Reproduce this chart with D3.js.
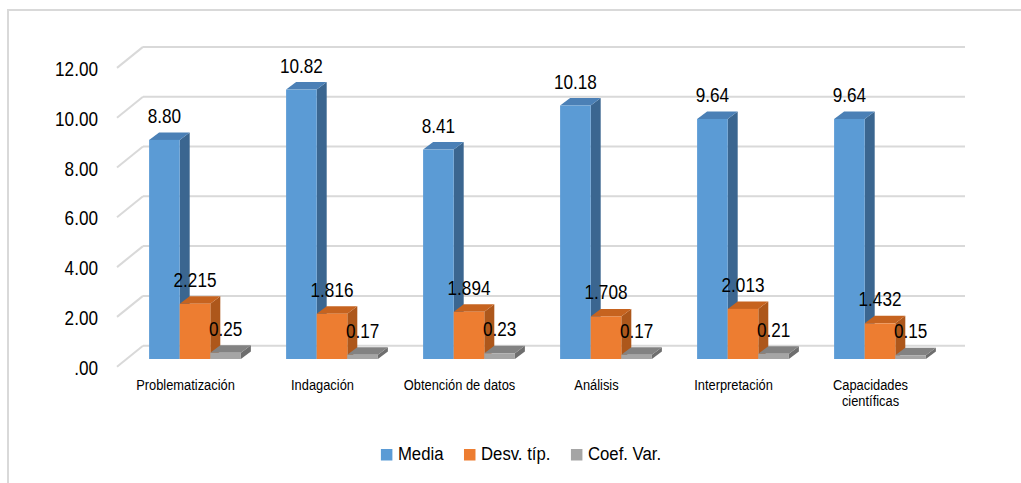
<!DOCTYPE html>
<html>
<head>
<meta charset="utf-8">
<script src="https://cdn.jsdelivr.net/npm/d3@7"></script>
<style>
  html, body { margin: 0; padding: 0; background: #fff; }
  svg { display: block; font-family: "Liberation Sans", Arial, sans-serif; }
</style>
</head>
<body>
<svg id="chart" width="1021" height="483"></svg>
<script>
// Dimension names and statistics per dimension
const categories = ["Problematización", "Indagación", "Obtención de datos", "Análisis", "Interpretación", "Capacidades científicas"];
const categoryLines = [["Problematización"], ["Indagación"], ["Obtención de datos"], ["Análisis"], ["Interpretación"], ["Capacidades", "científicas"]];
const seriesNames = ["Media", "Desv. típ.", "Coef. Var."];
const media = [8.80, 10.82, 8.41, 10.18, 9.64, 9.64];
const desvTip = [2.215, 1.816, 1.894, 1.708, 2.013, 1.432];
const coefVar = [0.25, 0.17, 0.23, 0.17, 0.21, 0.15];
const labelMedia = ["8.80", "10.82", "8.41", "10.18", "9.64", "9.64"];
const labelDesv = ["2.215", "1.816", "1.894", "1.708", "2.013", "1.432"];
const labelCoef = ["0.25", "0.17", "0.23", "0.17", "0.21", "0.15"];
const yTicks = [0, 2, 4, 6, 8, 10, 12];
const yTickLabels = [".00", "2.00", "4.00", "6.00", "8.00", "10.00", "12.00"];

const series = [
  { name: seriesNames[0], values: media, labels: labelMedia, front: "#5B9BD5", top: "#4B80B6", side: "#3B6690" },
  { name: seriesNames[1], values: desvTip, labels: labelDesv, front: "#ED7D31", top: "#C6631F", side: "#AD571B" },
  { name: seriesNames[2], values: coefVar, labels: labelCoef, front: "#A5A5A5", top: "#828282", side: "#6E6E6E" }
];

const svg = d3.select("#chart");

// Outer chart frame
svg.append("rect")
  .attr("x", 8).attr("y", 10).attr("width", 1040).attr("height", 500)
  .attr("fill", "none").attr("stroke", "#d9d9d9").attr("stroke-width", 2);

// 3D geometry: back wall, floor depth and bar depth
const backLeft = 143, backRight = 965;
const floorDX = -26, floorDY = 21;       // back wall -> front edge of floor
const barPlaneDX = -16.5, barPlaneDY = 13.3; // back wall -> bar front faces
const barDX = 10, barDY = -7.5;          // bar thickness

const y = d3.scaleLinear().domain([0, 12]).range([345.7, 46.9]);

// Category bands along the back wall
const xBack = d3.scaleBand().domain(categories).range([backLeft, backRight]);
const groupWidth = 91.8;
const xSeries = d3.scaleBand().domain(seriesNames).range([0, groupWidth]).paddingInner(0);

// Compressed text helper
function addText(g, x, yy, str, size, sx, anchor) {
  return g.append("text")
    .attr("transform", `translate(${x},${yy}) scale(${sx},1)`)
    .attr("text-anchor", anchor || "middle")
    .attr("font-size", size)
    .attr("fill", "#000")
    .text(str);
}

// Gridlines: back wall lines plus the diagonal across the side of the floor
const grid = svg.append("g");
yTicks.forEach(t => {
  const yy = y(t);
  grid.append("line")
    .attr("x1", backLeft).attr("x2", backRight)
    .attr("y1", yy).attr("y2", yy)
    .attr("stroke", "#d9d9d9").attr("stroke-width", 2);
  grid.append("line")
    .attr("x1", backLeft + floorDX).attr("y1", yy + floorDY)
    .attr("x2", backLeft).attr("y2", yy)
    .attr("stroke", "#d9d9d9").attr("stroke-width", 2);
});

// Value axis labels
const axisG = svg.append("g");
yTicks.forEach((t, i) => {
  addText(axisG, 98, y(t) + floorDY + 8, yTickLabels[i], 19.5, 0.88, "end");
});

// Bars (front, top and side faces)
const bars = svg.append("g");
const baseY = y(0) + barPlaneDY;
categories.forEach((c, ci) => {
  const gx = xBack(c) + xBack.bandwidth() / 2 + barPlaneDX - groupWidth / 2;
  series.forEach(s => {
    const v = s.values[ci];
    const x0 = gx + xSeries(s.name);
    const w = xSeries.bandwidth();
    const yt = y(v) + barPlaneDY;
    // side face
    bars.append("path")
      .attr("d", `M${x0 + w},${yt} L${x0 + w + barDX},${yt + barDY} L${x0 + w + barDX},${baseY + barDY} L${x0 + w},${baseY} Z`)
      .attr("fill", s.side);
    // top face
    bars.append("path")
      .attr("d", `M${x0},${yt} L${x0 + barDX},${yt + barDY} L${x0 + w + barDX},${yt + barDY} L${x0 + w},${yt} Z`)
      .attr("fill", s.top);
    // front face
    bars.append("rect")
      .attr("x", x0).attr("y", yt)
      .attr("width", w).attr("height", baseY - yt)
      .attr("fill", s.front);
  });
});

// Data labels
const labels = svg.append("g");
categories.forEach((c, ci) => {
  const gx = xBack(c) + xBack.bandwidth() / 2 + barPlaneDX - groupWidth / 2;
  series.forEach(s => {
    const v = s.values[ci];
    const cx = gx + xSeries(s.name) + xSeries.bandwidth() / 2;
    addText(labels, cx, y(v) + barPlaneDY - 17, s.labels[ci], 19.5, 0.88, "middle");
  });
});

// Category labels along the front edge of the floor
const catG = svg.append("g");
categories.forEach((c, ci) => {
  const cx = xBack(c) + xBack.bandwidth() / 2 + floorDX;
  categoryLines[ci].forEach((line, li) => {
    addText(catG, cx, 390 + li * 16, line, 15.5, 0.83, "middle");
  });
});

// Legend
const legend = svg.append("g");
const legendScale = 0.9, legendSize = 18.6;
const items = [];
let cursor = 0;
series.forEach((s, i) => {
  const item = legend.append("g");
  item.append("rect").attr("x", 0).attr("y", -11).attr("width", 11.5).attr("height", 11.5).attr("fill", s.front);
  const t = addText(item, 17, 0, s.name, legendSize, legendScale, "start");
  const tw = t.node().getComputedTextLength() * legendScale;
  items.push({ item, x: cursor });
  cursor += 17 + tw + (i < series.length - 1 ? 20.5 : 0);
});
const legendStart = 521 - cursor / 2;
items.forEach(d => d.item.attr("transform", `translate(${legendStart + d.x},460)`));
</script>
</body>
</html>
